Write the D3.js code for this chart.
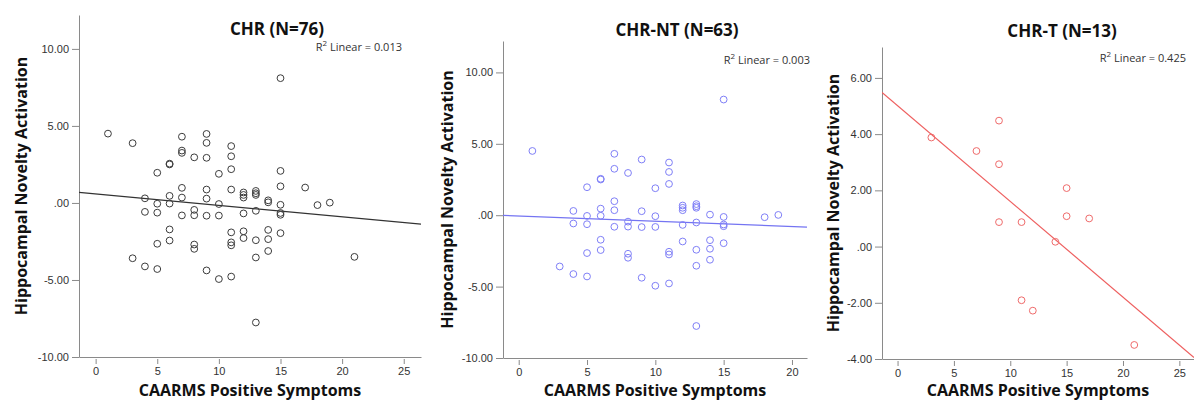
<!DOCTYPE html>
<html>
<head>
<meta charset="utf-8">
<script src="https://cdn.jsdelivr.net/npm/d3@7"></script>
<style>
  body { margin: 0; background: #fff; }
  svg { font-family: "Open Sans", sans-serif; }
  .tick text { fill: #333; font-size: 11px; }
  .axis path, .axis line { stroke: #8a8a8a; }
</style>
</head>
<body>
<svg width="1194" height="401"></svg>
<script>
// CHR-NT group: CAARMS positive score (x) vs hippocampal novelty activation (y)
var ntX = [1, 15, 7, 7, 6, 6, 5, 8, 9, 10, 11, 11, 11, 7,
  4, 4, 5, 5, 6, 6, 7, 7, 8, 8, 9, 9, 10, 10,
  12, 12, 12, 12, 12, 13, 13, 13, 13, 13, 13, 13,
  14, 14, 14, 14, 15, 15, 15, 15, 18, 19,
  6, 6, 5, 8, 8, 11, 11, 3, 4, 5, 9, 10, 11];
var ntY = [4.5, 8.1, 4.3, 3.25, 2.55, 2.5, 1.96, 2.96, 3.9, 1.89, 3.69, 3.03, 2.19, 0.98,
  0.3, -0.58, -0.05, -0.63, 0.46, -0.04, 0.35, -0.81, -0.45, -0.8, 0.28, -0.83, -0.07, -0.82,
  0.68, 0.52, 0.35, -0.68, -1.84, 0.78, 0.63, 0.52, -0.51, -2.42, -3.54, -7.76,
  0.04, -1.75, -2.35, -3.12, -0.12, -0.65, -0.77, -1.96, -0.14, 0.02,
  -1.72, -2.44, -2.65, -2.7, -2.98, -2.56, -2.75, -3.59, -4.12, -4.29, -4.38, -4.94, -4.78];

// CHR-T group
var tX = [3, 7, 9, 9, 9, 11, 11, 12, 14, 15, 15, 17, 21];
var tY = [3.88, 3.4, 4.48, 2.93, 0.87, 0.87, -1.91, -2.28, 0.17, 2.08, 1.08, 1.0, -3.5];

// all CHR = both groups together
var chrX = ntX.concat(tX);
var chrY = ntY.concat(tY);

var titles = ["CHR (N=76)", "CHR-NT (N=63)", "CHR-T (N=13)"];
var r2Values = ["0.013", "0.003", "0.425"];
var xTicks = [[0, 5, 10, 15, 20, 25], [0, 5, 10, 15, 20], [0, 5, 10, 15, 20, 25]];
var yTicks = [[-10, -5, 0, 5, 10], [-10, -5, 0, 5, 10], [-4, -2, 0, 2, 4, 6]];

var svg = d3.select("svg");

// spss style numbers: ".00", "5.00", "-10.00"
function spssFmt(d) {
  var s = Math.abs(d).toFixed(2);
  if (s.charAt(0) == "0") s = s.slice(1);
  return (d < 0 ? "-" : "") + s;
}

function fit(xs, ys) {
  var mx = d3.mean(xs), my = d3.mean(ys), sxy = 0, sxx = 0;
  xs.forEach(function(x, i) {
    sxy += (x - mx) * (ys[i] - my);
    sxx += (x - mx) * (x - mx);
  });
  var b = sxy / sxx;
  return {b: b, a: my - b * mx};
}

var panels = [
  {xs: chrX, ys: chrY, left: 79, right: 421, top: 15, bottom: 357,
   xd: [-1.35, 26.4], yd: [-10, 12.2], color: "#3c3c3c", line: "#333",
   title: [277, 35], r2: [402, 51], ylab: 21, xlab: 250},
  {xs: ntX, ys: ntY, left: 503, right: 807, top: 41, bottom: 358,
   xd: [-1.15, 21.1], yd: [-10, 12.2], color: "#7f7ff7", line: "#7474f2",
   title: [677, 36], r2: [810, 64], ylab: 447, xlab: 655},
  {xs: tX, ys: tY, left: 882, right: 1194, top: 47, bottom: 359,
   xd: [-1.38, 26.3], yd: [-4, 7.1], color: "#ef6b6b", line: "#ee5f5f",
   title: [1062, 37], r2: [1186, 62], ylab: 833, xlab: 1038}
];

panels.forEach(function(p, i) {
  var x = d3.scaleLinear().domain(p.xd).range([p.left, p.right]);
  var y = d3.scaleLinear().domain(p.yd).range([p.bottom, p.top]);
  var g = svg.append("g");

  g.append("clipPath").attr("id", "clip" + i)
    .append("rect")
    .attr("x", p.left).attr("y", p.top)
    .attr("width", p.right - p.left).attr("height", p.bottom - p.top);

  var ya = g.append("g").attr("class", "axis")
    .attr("transform", "translate(" + p.left + ",0)")
    .call(d3.axisLeft(y).tickValues(yTicks[i]).tickFormat(spssFmt).tickSize(7).tickSizeOuter(0));

  var xa = g.append("g").attr("class", "axis")
    .attr("transform", "translate(0," + p.bottom + ")")
    .call(d3.axisBottom(x).tickValues(xTicks[i]).tickFormat(d3.format("d")).tickSize(7).tickSizeOuter(0));
  xa.selectAll(".tick line").attr("y1", 2);

  // regression line over the whole x range
  var f = fit(p.xs, p.ys);
  g.append("line")
    .attr("clip-path", "url(#clip" + i + ")")
    .attr("x1", x(p.xd[0])).attr("y1", y(f.a + f.b * p.xd[0]))
    .attr("x2", x(p.xd[1])).attr("y2", y(f.a + f.b * p.xd[1]))
    .attr("stroke", p.line).attr("stroke-width", 1.2);

  g.selectAll(".pt")
    .data(p.xs)
    .enter().append("circle")
    .attr("class", "pt")
    .attr("cx", function(d) { return x(d); })
    .attr("cy", function(d, j) { return y(p.ys[j]); })
    .attr("r", 3.4)
    .attr("fill", "none")
    .attr("stroke", p.color)
    .attr("stroke-width", 1);

  g.append("text")
    .attr("x", p.title[0]).attr("y", p.title[1])
    .attr("text-anchor", "middle")
    .style("font-size", "17px").style("font-weight", "bold").style("fill", "#111")
    .text(titles[i]);

  var r2 = g.append("text")
    .attr("x", p.r2[0]).attr("y", p.r2[1])
    .attr("text-anchor", "end")
    .style("font-size", "11px").style("fill", "#333");
  r2.append("tspan").text("R");
  r2.append("tspan").attr("dy", -5).style("font-size", "8px").text("2");
  r2.append("tspan").attr("dy", 5).text(" Linear = " + r2Values[i]);

  g.append("text")
    .attr("transform", "translate(" + p.ylab + "," + ((p.top + p.bottom) / 2) + ") rotate(-90)")
    .attr("text-anchor", "middle")
    .attr("dy", "0.35em")
    .style("font-size", "16px").style("font-weight", "bold").style("fill", "#111")
    .text("Hippocampal Novelty Activation");

  g.append("text")
    .attr("x", p.xlab).attr("y", 396)
    .attr("text-anchor", "middle")
    .style("font-size", "16px").style("font-weight", "bold").style("fill", "#111")
    .text("CAARMS Positive Symptoms");
});
</script>
</body>
</html>
